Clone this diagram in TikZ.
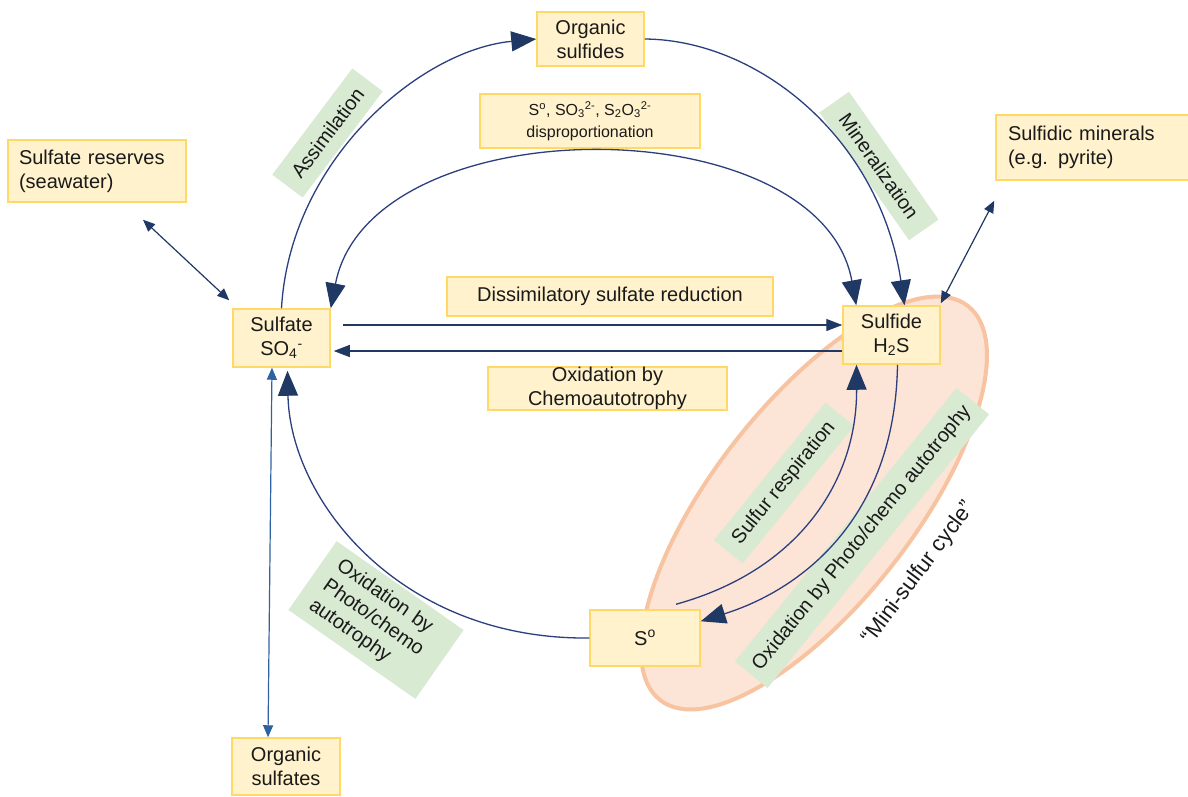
\documentclass[tikz,border=0pt]{standalone}
\usepackage{fontspec}
\setmainfont{Liberation Sans}
\usetikzlibrary{arrows.meta,shapes.geometric}
\definecolor{boxfill}{HTML}{FFF2CC}
\definecolor{boxline}{HTML}{FFD966}
\definecolor{greenfill}{HTML}{D9EAD3}
\definecolor{navy}{HTML}{1F3864}
\definecolor{arcblue}{HTML}{2B3F7E}
\definecolor{steel}{HTML}{2E62A0}
\definecolor{peachfill}{HTML}{FCE4D6}
\definecolor{peachline}{HTML}{F8C3A0}
\definecolor{txt}{HTML}{1A1A1A}
\begin{document}
\begin{tikzpicture}[x=1pt,y=-1pt,
  every node/.style={font=\fontsize{20}{24}\selectfont, text=txt},
  ybox/.style={draw=boxline, fill=boxfill, line width=1.5pt, inner sep=0pt, align=center},
  glabel/.style={fill=greenfill, inner sep=0pt, align=center},
  bigtip/.style={-{Triangle[length=25pt,width=20pt,color=navy]}},
  bigarc/.style={draw=arcblue, line width=1.3pt, bigtip},
  flow/.style={draw=navy, line width=1.2pt, -{Triangle[length=16pt,width=12pt]}},
  dbl/.style={draw=navy, line width=1.2pt, {Triangle[length=12pt,width=10pt]}-{Triangle[length=12pt,width=10pt]}}
]
\useasboundingbox (0,0) rectangle (1188,796);
\fill[white] (0,0) rectangle (1188,796);

% mini sulfur cycle ellipse
\draw[fill=peachfill, draw=peachline, line width=4pt, rotate around={52:(814,503)}]
  (814,503) ellipse [x radius=250pt, y radius=100pt];

% yellow boxes
\node[ybox, minimum width=107pt, minimum height=54pt] (orgsulfides) at (590.5,39) {Organic\\sulfides};
\node[ybox, minimum width=220pt, minimum height=54pt, font=\fontsize{16}{22}\selectfont] (disp) at (590,121)
  {S\textsuperscript{o}, SO\textsubscript{3}\textsuperscript{2-}, S\textsubscript{2}O\textsubscript{3}\textsuperscript{2-}\\disproportionation};
\node[ybox, minimum width=178pt, minimum height=62pt, text width=156pt, align=left] (reserves) at (97,171) {Sulfate reserves\\(seawater)};
\node[ybox, minimum width=200pt, minimum height=65pt, text width=176pt, align=left] (minerals) at (1096,147.5) {Sulfidic minerals\\(e.g. pyrite)};
\node[ybox, minimum width=326pt, minimum height=39pt] (dsr) at (610,296.5) {Dissimilatory sulfate reduction};
\node[ybox, minimum width=97pt, minimum height=58pt] (sulfate) at (281.5,338) {Sulfate\\SO\textsubscript{4}\textsuperscript{-}};
\node[ybox, minimum width=97pt, minimum height=58pt] (sulfide) at (891.5,335) {Sulfide\\H\textsubscript{2}S};
\node[ybox, minimum width=239pt, minimum height=43pt] (oxchemo) at (607.5,388.5) {Oxidation by\\Chemoautotrophy};
\node[ybox, minimum width=110pt, minimum height=56pt] (s0) at (645,638) {S\textsuperscript{o}};
\node[ybox, minimum width=108pt, minimum height=57pt] (orgsulfates) at (286,766.5) {Organic\\sulfates};

% green labels
\node[glabel, rotate=53, minimum width=133pt, minimum height=38pt] (assim) at (327.5,133) {Assimilation};
\node[glabel, rotate=-55, minimum width=156pt, minimum height=36pt] (miner) at (879,166) {Mineralization};
\node[glabel, rotate=51, minimum width=177pt, minimum height=37pt] (sresp) at (784,483) {Sulfur respiration};
\node[glabel, rotate=51, minimum width=352pt, minimum height=42pt] (oxright) at (862,538) {Oxidation by Photo/chemo autotrophy};
\node[glabel, rotate=-35, minimum width=155pt, minimum height=84pt, text width=125pt, align=left] (oxleft) at (376,620) {Oxidation by\\Photo/chemo\\autotrophy};
\node[rotate=53, font=\fontsize{22}{26}\selectfont] (mini) at (919,573) {“Mini-sulfur cycle”};

% connectors
\draw[bigarc] (sulfate.north) .. controls (290,160) and (420,50) .. (orgsulfides.west);
\draw[bigarc] (orgsulfides.east) .. controls (760,40) and (880,140) .. ([xshift=13pt]sulfide.north);
\draw[draw=arcblue, line width=1.3pt, {Triangle[length=25pt,width=20pt,color=navy]}-{Triangle[length=25pt,width=20pt,color=navy]}]
  (sulfate.north east) .. controls (370,105) and (820,105) .. ([xshift=14pt]sulfide.north west);
\draw[flow] ([xshift=12pt,yshift=13pt]sulfate.east) -- ([yshift=10pt]sulfide.west);
\draw[flow] ([yshift=-16pt]sulfide.west) -- ([xshift=3pt,yshift=-13pt]sulfate.east);
\draw[bigarc] ([xshift=31pt,yshift=5pt]s0.north) .. controls (800,570) and (857,480) .. ([xshift=-35pt]sulfide.south);
\draw[bigarc] ([xshift=6pt]sulfide.south) .. controls (895,520) and (800,590) .. ([yshift=-12pt]s0.north east);
\draw[bigarc] (s0.west) .. controls (400,640) and (290,500) .. ([xshift=6pt,yshift=-3pt]sulfate.south);
\draw[dbl] ([xshift=46pt,yshift=-17pt]reserves.south) -- ([xshift=-3pt,yshift=8pt]sulfate.north west);
\draw[dbl] ([xshift=-1pt,yshift=-20pt]minerals.south west) -- ([yshift=2pt]sulfide.north east);
\draw[dbl, draw=steel] ([xshift=-9.5pt]sulfate.south) -- ([xshift=-18pt]orgsulfates.north);
\end{tikzpicture}
\end{document}
